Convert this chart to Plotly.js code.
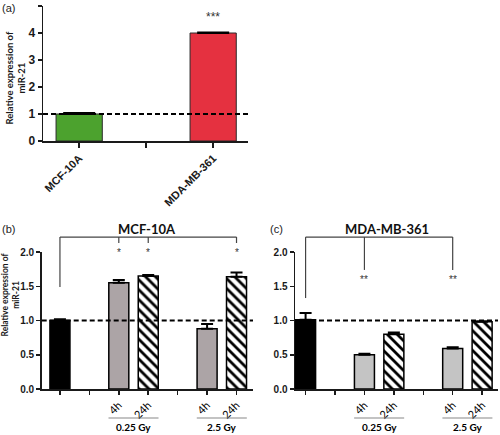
<!DOCTYPE html>
<html><head><meta charset="utf-8">
<script src="https://cdn.plot.ly/plotly-3.0.1.min.js"></script>
<style>html,body{margin:0;padding:0;background:#fff}#chart{width:500px;height:435px}</style>
</head><body><div id="chart"></div>
<script>
// ---------- Panel (a) data ----------
const axisCategoriesA = ['MCF-10A', ' ', 'MDA-MB-361'];
const cellLinesA = ['MCF-10A', 'MDA-MB-361'];
const valuesA = [1.0, 4.0];
const errorsA = [0.04, 0.02];
const colorsA = ['#4ca22e', '#e53140'];
const sigKeyA = 'MDA-MB-361';
const sigLabelA = '***';

// ---------- Panels (b) and (c) data ----------
const conditionKeys = ['Control', 'gap1', '0.25 Gy 4h', '0.25 Gy 24h', 'gap2', '2.5 Gy 4h', '2.5 Gy 24h'];
const tickLabelsBC = ['', '', '4h', '24h', '', '4h', '24h'];
const controlKeys = ['Control'];
const fourHourKeys = ['0.25 Gy 4h', '2.5 Gy 4h'];
const dayKeys = ['0.25 Gy 24h', '2.5 Gy 24h'];
const doseLabels = ['0.25 Gy', '2.5 Gy'];
const doseMembers = [['0.25 Gy 4h', '0.25 Gy 24h'], ['2.5 Gy 4h', '2.5 Gy 24h']];

const controlB = [1.0];        const controlErrB = [0.02];
const fourHourB = [1.55, 0.88]; const fourHourErrB = [0.04, 0.07];
const dayB = [1.65, 1.64];      const dayErrB = [0.015, 0.06];
const sigKeysB = ['0.25 Gy 4h', '0.25 Gy 24h', '2.5 Gy 24h'];
const sigLabelsB = ['*', '*', '*'];

const controlC = [1.01];        const controlErrC = [0.1];
const fourHourC = [0.50, 0.59]; const fourHourErrC = [0.015, 0.02];
const dayC = [0.80, 0.98];      const dayErrC = [0.025, 0.01];
const sigKeysC = ['0.25 Gy 4h', '2.5 Gy 4h'];
const sigLabelsC = ['**', '**'];

const referenceLevel = 1;

// ---------- styling ----------
const AX = '#1a1a1a';
const tickFontBold = {family: 'Liberation Sans, Arial, sans-serif', size: 11, color: '#1a1a1a', weight: 'bold'};
const idx = k => conditionKeys.indexOf(k);
const zeros = a => a.map(() => 0);

function errBar(arr, w) {
  return {type: 'data', symmetric: false, array: arr, arrayminus: zeros(arr), color: '#000', thickness: 2, width: w, visible: true};
}

const grayB = '#aca4a6', grayC = '#c4c4c4';
const hatch = {shape: '\\', fgcolor: '#000', bgcolor: '#fff', size: 7, solidity: 0.4};

function panelTraces(xa, ya, ctrl, ctrlErr, fh, fhErr, dd, ddErr, gray) {
  return [
    {type: 'bar', x: controlKeys, y: ctrl, width: 0.68, xaxis: xa, yaxis: ya,
     marker: {color: '#000', line: {color: '#000', width: 1.5}}, error_y: errBar(ctrlErr, 6), hoverinfo: 'skip'},
    {type: 'bar', x: fourHourKeys, y: fh, width: 0.68, xaxis: xa, yaxis: ya,
     marker: {color: gray, line: {color: '#000', width: 1.5}}, error_y: errBar(fhErr, 6), hoverinfo: 'skip'},
    {type: 'bar', x: dayKeys, y: dd, width: 0.68, xaxis: xa, yaxis: ya,
     marker: {color: '#fff', line: {color: '#000', width: 1.5}, pattern: hatch}, error_y: errBar(ddErr, 6), hoverinfo: 'skip'}
  ];
}

const traces = [
  {type: 'bar', x: cellLinesA, y: valuesA, width: 0.69, xaxis: 'x', yaxis: 'y',
   marker: {color: colorsA, line: {color: '#2a2a2a', width: 1}}, error_y: errBar(errorsA, 16), hoverinfo: 'skip'}
].concat(
  panelTraces('x2', 'y2', controlB, controlErrB, fourHourB, fourHourErrB, dayB, dayErrB, grayB),
  panelTraces('x3', 'y3', controlC, controlErrC, fourHourC, fourHourErrC, dayC, dayErrC, grayC)
);

function xAxisBC(domain, range) {
  return {domain: domain, type: 'category', categoryorder: 'array', categoryarray: conditionKeys,
    tickmode: 'array', tickvals: conditionKeys, ticktext: tickLabelsBC, range: range,
    showline: true, linecolor: AX, linewidth: 1.5, ticks: 'outside', ticklen: 4, tickwidth: 1.5, tickcolor: AX,
    tickangle: -45, tickfont: {family: 'Lato, sans-serif', size: 11, color: '#000'},
    showgrid: false, zeroline: false, fixedrange: true};
}
function yAxisBC(domain, anchor) {
  return {domain: domain, anchor: anchor, range: [0, 2], tickvals: [0, 0.5, 1, 1.5, 2], tickformat: '.1f',
    showline: true, linecolor: AX, linewidth: 1.5, ticks: 'outside', ticklen: 4, tickwidth: 1.5, tickcolor: AX,
    tickfont: Object.assign({}, tickFontBold, {size: 10}), showgrid: false, zeroline: false, fixedrange: true};
}

const yDomBC = [1 - 389 / 435, 1 - 252 / 435];

const layout = {
  width: 500, height: 435, margin: {l: 0, r: 0, t: 0, b: 0},
  paper_bgcolor: '#fff', plot_bgcolor: 'rgba(0,0,0,0)', showlegend: false, barmode: 'overlay',
  xaxis: {domain: [43 / 500, 248 / 500], anchor: 'y', type: 'category', categoryorder: 'array', categoryarray: axisCategoriesA,
    range: [-0.54, 2.52], showline: true, linecolor: AX, linewidth: 1.5, ticks: 'outside', ticklen: 5, tickwidth: 1.5, tickcolor: AX,
    tickangle: -45, tickfont: tickFontBold, showgrid: false, zeroline: false, fixedrange: true},
  yaxis: {domain: [1 - 141 / 435, 1 - 6 / 435], anchor: 'x', range: [0, 5], dtick: 1,
    showline: true, linecolor: AX, linewidth: 1.5, ticks: 'outside', ticklen: 4, tickwidth: 1.5, tickcolor: AX,
    tickfont: Object.assign({}, tickFontBold, {size: 12}), showgrid: false, zeroline: false, fixedrange: true},
  xaxis2: Object.assign(xAxisBC([41.7 / 500, 253 / 500], [-0.62, 6.56]), {anchor: 'y2'}),
  yaxis2: yAxisBC(yDomBC, 'x2'),
  xaxis3: Object.assign(xAxisBC([295 / 500, 498 / 500], [-0.36, 6.54]), {anchor: 'y3'}),
  yaxis3: yAxisBC(yDomBC, 'x3'),
  shapes: [],
  annotations: []
};

// reference dashed lines at expression = 1
[['x', 'y'], ['x2', 'y2'], ['x3', 'y3']].forEach(([xa, ya]) => {
  layout.shapes.push({type: 'line', xref: xa + ' domain', yref: ya, x0: 0, x1: 1, y0: referenceLevel, y1: referenceLevel,
    line: {color: '#000', width: 1.8, dash: '5px,3px'}});
});

// significance brackets (positions in y-domain fractions)
function bracket(xa, ya, sigKeys, sigLabels, topF, ctrlEndF, dropEndF, starF) {
  const line = {color: '#444', width: 1.2};
  const last = Math.max.apply(null, sigKeys.map(idx));
  layout.shapes.push({type: 'line', xref: xa, yref: ya + ' domain', x0: idx('Control'), x1: last, y0: topF, y1: topF, line: line});
  layout.shapes.push({type: 'line', xref: xa, yref: ya + ' domain', x0: idx('Control'), x1: idx('Control'), y0: topF, y1: ctrlEndF, line: line});
  sigKeys.forEach((k, i) => {
    layout.shapes.push({type: 'line', xref: xa, yref: ya + ' domain', x0: idx(k), x1: idx(k), y0: topF, y1: dropEndF, line: line});
    layout.annotations.push({xref: xa, yref: ya + ' domain', x: idx(k), y: starF, text: sigLabels[i], showarrow: false,
      xanchor: 'center', yanchor: 'middle', font: {family: 'Liberation Sans, Arial, sans-serif', size: 10, color: '#333'}});
  });
}
bracket('x2', 'y2', sigKeysB, sigLabelsB, 1.109, 0.745, 1.066, 1.0);
bracket('x3', 'y3', sigKeysC, sigLabelsC, 1.109, 0.664, 0.869, 0.80);

// panel (a) significance
layout.annotations.push({xref: 'x', yref: 'y domain', x: axisCategoriesA.indexOf(sigKeyA), y: 0.915, text: sigLabelA, showarrow: false,
  xanchor: 'center', yanchor: 'middle', font: {family: 'Liberation Sans, Arial, sans-serif', size: 12, color: '#333'}});

// dose group labels under x axes
[['x2'], ['x3']].forEach(([xa]) => {
  doseMembers.forEach((members, g) => {
    const c = (idx(members[0]) + idx(members[1])) / 2;
    layout.shapes.push({type: 'line', xref: xa, yref: 'paper', x0: c - 0.85, x1: c + 0.85, y0: 1 - 418 / 435, y1: 1 - 418 / 435,
      line: {color: '#888', width: 1.2}});
    layout.annotations.push({xref: xa, yref: 'paper', x: c, y: 1 - 427 / 435, text: doseLabels[g], showarrow: false,
      xanchor: 'center', yanchor: 'middle', font: {family: 'Lato, sans-serif', size: 10, color: '#000', weight: 'bold'}});
  });
});

// titles and panel letters
const ann = (x, y, text, font, extra) => layout.annotations.push(Object.assign({xref: 'paper', yref: 'paper', x: x / 500, y: 1 - y / 435,
  text: text, showarrow: false, xanchor: 'center', yanchor: 'middle', font: font}, extra || {}));
ann(8, 8, '(a)', {family: 'Liberation Sans, Arial, sans-serif', size: 11, color: '#222'});
ann(8, 229, '(b)', {family: 'Liberation Sans, Arial, sans-serif', size: 11, color: '#222'});
ann(276, 229, '(c)', {family: 'Liberation Sans, Arial, sans-serif', size: 11, color: '#222'});
ann(147, 229, 'MCF-10A', {family: 'Lato, sans-serif', size: 13, color: '#111', weight: 'bold'});
ann(387, 229, 'MDA-MB-361', {family: 'Lato, sans-serif', size: 13, color: '#111', weight: 'bold'});
ann(14.5, 78, 'Relative expression of<br>miR-21', {family: 'Lato, sans-serif', size: 9.5, color: '#1a1a1a', weight: 'bold'}, {textangle: -90});
ann(9.5, 295, 'Relative expression of<br>miR-21', {family: 'Lato, sans-serif', size: 8.5, color: '#1a1a1a', weight: 'bold'}, {textangle: -90});

Plotly.newPlot('chart', traces, layout, {staticPlot: true, displayModeBar: false});
</script>
</body></html>
